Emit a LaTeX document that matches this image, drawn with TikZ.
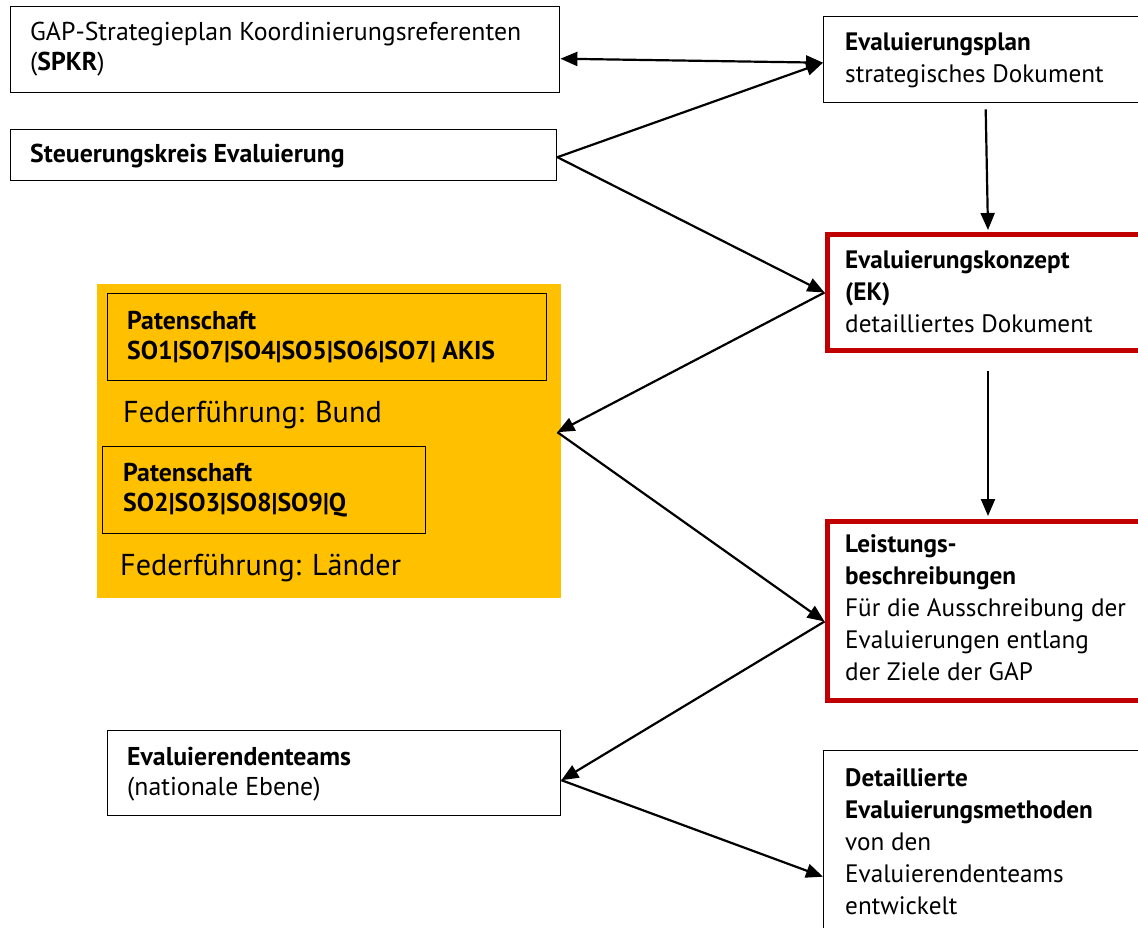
\documentclass[tikz,border=0pt]{standalone}
\usepackage{fontspec}
\setmainfont{PT Sans}
\usetikzlibrary{arrows.meta,calc}
\definecolor{orng}{HTML}{FFC000}
\definecolor{dred}{HTML}{C00000}
\begin{document}
\begin{tikzpicture}[x=1pt,y=-1pt,
  box/.style={draw=black,line width=1.4pt,rectangle,anchor=north west,inner sep=0pt},
  redbox/.style={draw=dred,line width=5pt,rectangle,anchor=north west,inner sep=0pt},
  txt/.style={anchor=west,align=left,inner sep=0pt,font=\fontsize{25.8}{30}\selectfont},
  rtxt/.style={anchor=west,align=left,inner sep=0pt,font=\fontsize{25.2}{32}\selectfont},
  big/.style={anchor=west,inner sep=0pt,font=\fontsize{30.2}{34}\selectfont},
  arr/.style={line width=2.2pt,-{Triangle[length=17pt,width=14pt]}},
  darr/.style={line width=2.2pt,{Triangle[length=17pt,width=14pt]}-{Triangle[length=17pt,width=14pt]}}
]
\clip (0,0) rectangle (1138,928);
\fill[white] (0,0) rectangle (1138,928);

% left column boxes
\node[box,minimum width=549pt,minimum height=86pt] (spkr) at (10,6) {};
\node[txt] (tspkr) at ([xshift=20pt,yshift=1pt]spkr.west) {GAP-Strategieplan Koordinierungsreferenten\\(\textbf{SPKR})};

\node[box,minimum width=546pt,minimum height=51pt] (steuer) at (10,129) {};
\node[txt] (tsteuer) at ([xshift=20pt,yshift=-1pt]steuer.west) {\textbf{Steuerungskreis Evaluierung}};

% orange area
\node[fill=orng,rectangle,anchor=north west,inner sep=0pt,minimum width=464pt,minimum height=314pt] (orange) at (97,284) {};
\node[box,line width=1.2pt,minimum width=439pt,minimum height=87pt] (pat1) at (107,293) {};
\node[txt] (tpat1) at ([xshift=20pt]pat1.west) {\textbf{Patenschaft}\\\textbf{SO1|SO7|SO4|SO5|SO6|SO7| AKIS}};
\node[big] (bund) at (123,415) {Federführung: Bund};
\node[box,line width=1.2pt,minimum width=323pt,minimum height=87pt] (pat2) at (102,446) {};
\node[txt] (tpat2) at ([xshift=21pt]pat2.west) {\textbf{Patenschaft}\\\textbf{SO2|SO3|SO8|SO9|Q}};
\node[big] (laender) at (120,568) {Federführung: Länder};

\node[box,minimum width=453pt,minimum height=85pt] (teams) at (107,730) {};
\node[txt] (tteams) at ([xshift=20pt,yshift=-1pt]teams.west) {\textbf{Evaluierendenteams}\\(nationale Ebene)};

% right column boxes
\node[box,minimum width=324pt,minimum height=86pt] (plan) at (823,16) {};
\node[rtxt] (tplan) at ([xshift=22pt,yshift=-1pt]plan.west) {\textbf{Evaluierungsplan}\\strategisches Dokument};

\node[redbox,minimum width=322pt,minimum height=115pt] (ek) at (824.5,232.5) {};
\node[rtxt] (tek) at ([xshift=20.5pt,yshift=1pt]ek.west) {\textbf{Evaluierungskonzept}\\\textbf{(EK)}\\detailliertes Dokument};

\node[redbox,minimum width=322pt,minimum height=179pt] (leist) at (824.5,518.5) {};
\node[rtxt] (tleist) at ([xshift=20.5pt,yshift=3pt]leist.west) {\textbf{Leistungs-}\\\textbf{beschreibungen}\\Für die Ausschreibung der\\Evaluierungen entlang\\der Ziele der GAP};

\node[box,minimum width=324pt,minimum height=190pt] (detail) at (823,750) {};
\node[rtxt,anchor=north west] (tdetail) at (845,768) {\textbf{Detaillierte}\\\textbf{Evaluierungsmethoden}\\von den\\Evaluierendenteams\\entwickelt};

% connectors
\draw[darr] ([yshift=-9pt]spkr.east) -- ([yshift=-3pt]plan.west);
\draw[arr] ([yshift=-2pt]steuer.east) -- ([yshift=-3pt]plan.west);
\draw[arr] ([yshift=-2pt]steuer.east) -- (ek.west);
\draw[arr] (ek.west) -- ([xshift=-4pt,yshift=9pt]orange.east);
\draw[arr] ([xshift=-4pt,yshift=9pt]orange.east) -- ([yshift=-11pt]leist.west);
\draw[arr] ([yshift=-11pt]leist.west) -- ([yshift=-7pt]teams.east);
\draw[arr] ([yshift=-7pt]teams.east) -- ([yshift=-31pt]detail.west);
\draw[arr] ([yshift=-6pt]plan.south) -- ([yshift=2.5pt]ek.north);
\draw[arr] ([yshift=-18pt]ek.south) -- ([yshift=2.5pt]leist.north);
\end{tikzpicture}
\end{document}
